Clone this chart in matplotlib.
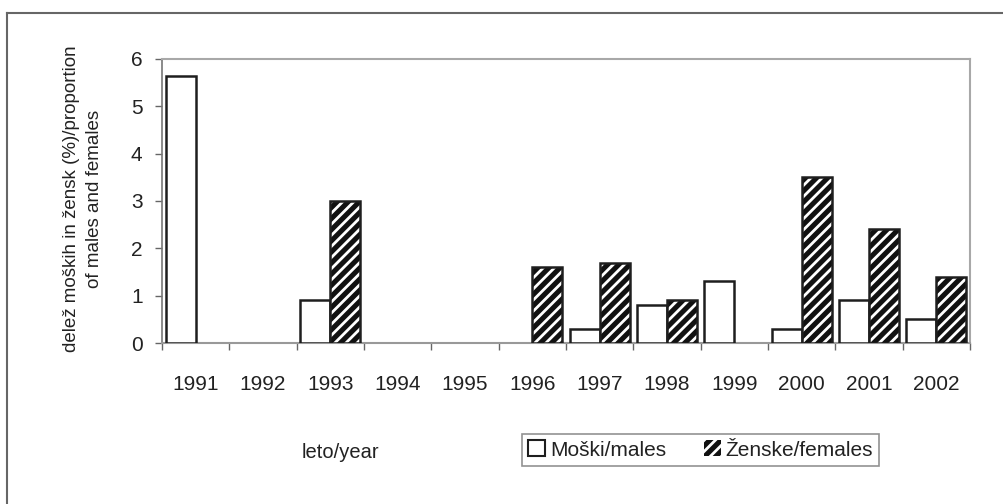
#!/usr/bin/env python3
"""Proportion of males and females by year (bar chart, hatched females)."""

import matplotlib
matplotlib.use("Agg")
import matplotlib.pyplot as plt
from matplotlib.lines import Line2D
from matplotlib.patches import Patch
import numpy as np

years = ["1991", "1992", "1993", "1994", "1995", "1996",
         "1997", "1998", "1999", "2000", "2001", "2002"]
males = [5.65, 0, 0.9, 0, 0, 0, 0.3, 0.8, 1.3, 0.3, 0.9, 0.5]
females = [0, 0, 3.0, 0, 0, 1.6, 1.7, 0.9, 0, 3.5, 2.4, 1.4]

plt.rcParams["font.family"] = ["Liberation Sans", "DejaVu Sans"]
plt.rcParams["hatch.linewidth"] = 2.0
TXT = "#222222"
EDGE = "#1e1e1e"

fig = plt.figure(figsize=(10.04, 5.04), dpi=100)
ax = fig.add_axes([0.1614, 0.3194, 0.8048, 0.5636])

x = np.arange(len(years))
m = np.array(males)
f = np.array(females)
w = 0.445
# skip empty years so the baseline stays grey
mk = m > 0
fk = f > 0
ax.bar(x[mk] - w / 2, m[mk], w, facecolor="white", edgecolor=EDGE, linewidth=1.8, zorder=3)
# females: black with white diagonal stripes, then black outline on top
ax.bar(x[fk] + w / 2, f[fk], w, facecolor="#111111", edgecolor="white", hatch="///",
       linewidth=0, zorder=3)
ax.bar(x[fk] + w / 2, f[fk], w, facecolor="none", edgecolor=EDGE, linewidth=1.8, zorder=4)

ax.set_xlim(-0.5, len(years) - 0.5)
ax.set_ylim(0, 6)
ax.set_yticks(range(7))
ax.set_xticks(x)
ax.set_xticklabels(years)
ax.set_xticks(np.arange(-0.5, len(years)), minor=True)
ax.tick_params(axis="x", which="major", length=0, pad=23, labelsize=15, labelcolor=TXT)
ax.tick_params(axis="x", which="minor", length=5, direction="out", color="#666666", width=1)
ax.tick_params(axis="y", length=5, direction="out", color="#666666", width=1,
               pad=9, labelsize=15, labelcolor=TXT)

for side in ["top", "right"]:
    ax.spines[side].set_color("#a8a8a8")
    ax.spines[side].set_linewidth(1.5)
ax.spines["left"].set_color("#777777")
ax.spines["bottom"].set_color("#999999")
ax.spines["left"].set_linewidth(1.2)
ax.spines["bottom"].set_linewidth(1.5)

fig.text(0.083, 0.605, "delež moških in žensk (%)/proportion\nof males and females",
         rotation=90, ha="center", va="center", fontsize=13.5, color=TXT, linespacing=1.45)
fig.text(0.339, 1 - 453 / 504, "leto/year", ha="center", va="center", fontsize=14.5, color=TXT)

handles = [Patch(facecolor="white", edgecolor=EDGE, linewidth=1.5),
           Patch(facecolor="#111111", edgecolor="white", hatch="///", linewidth=0)]
leg = fig.legend(handles, ["Moški/males", "Ženske/females"], ncol=2, loc="center",
                 bbox_to_anchor=(0.698, 1 - 450 / 504), frameon=True, fancybox=False,
                 fontsize=15, handlelength=0.8, handleheight=0.8, handletextpad=0.25,
                 columnspacing=1.8, borderpad=0.3, borderaxespad=0)
leg.get_frame().set_edgecolor("#777777")
leg.get_frame().set_linewidth(1.2)
for t in leg.get_texts():
    t.set_color(TXT)

# outer frame (left and top only)
fig.add_artist(Line2D([7 / 1004, 7 / 1004], [0, 1 - 13 / 504], color="#666666", lw=1.5))
fig.add_artist(Line2D([7 / 1004, 1], [1 - 13 / 504, 1 - 13 / 504], color="#666666", lw=1.5))

fig.savefig("out.png", dpi=100, facecolor="white")
